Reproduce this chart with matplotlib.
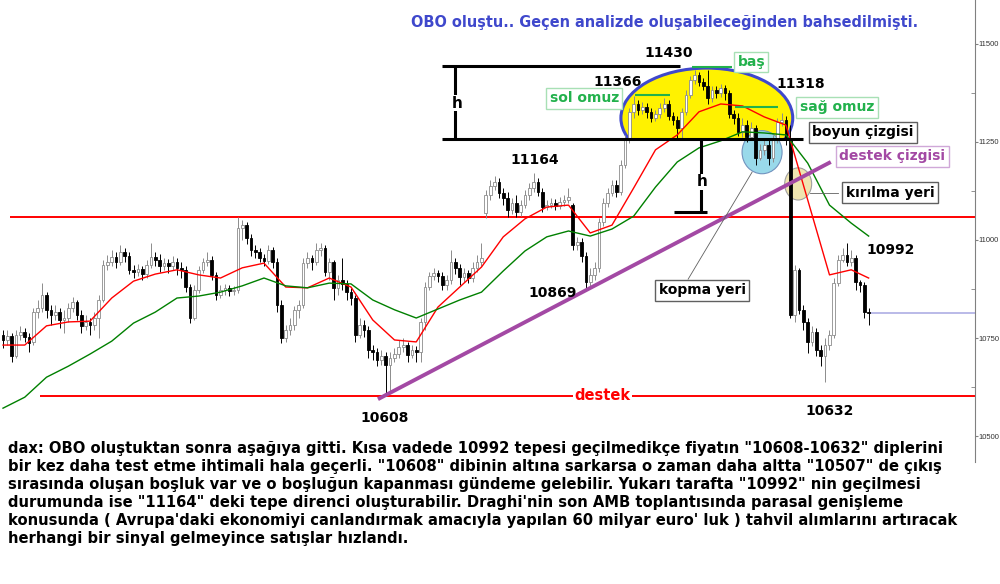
import numpy as np
import matplotlib
matplotlib.use("Agg")
import matplotlib.pyplot as plt
from matplotlib.patches import Ellipse, Rectangle

# DAX candles (one per bar, left to right)
opens = [
    10758, 10745, 10755, 10704, 10758, 10765, 10753, 10740, 10816, 10827,
    10860, 10822, 10809, 10816, 10796, 10801, 10827, 10842, 10809, 10781,
    10791, 10783, 10801, 10847, 10936, 10944, 10957, 10944, 10969, 10959,
    10924, 10918, 10926, 10913, 10936, 10957, 10949, 10934, 10941, 10934,
    10944, 10929, 10924, 10880, 10801, 10873, 10924, 10944, 10949, 10911,
    10860, 10873, 10878, 10870, 10873, 11031, 11038, 11005, 10975, 10969,
    10954, 10946, 10975, 10944, 10834, 10750, 10771, 10783, 10822, 10834,
    10941, 10954, 10944, 10975, 10980, 10918, 10944, 10878, 10898, 10888,
    10867, 10852, 10758, 10783, 10771, 10720, 10714, 10694, 10704, 10681,
    10699, 10709, 10727, 10732, 10707, 10720, 10714, 10791, 10880, 10908,
    10916, 10908, 10885, 10898, 10944, 10929, 10906, 10916, 10903, 10929,
    10944, 11069, 11115, 11138, 11148, 11120, 11107, 11077, 11094, 11071,
    11089, 11115, 11133, 11148, 11122, 11084, 11089, 11094, 11087, 11097,
    11102, 11089, 10987, 10995, 10959, 10893, 10911, 10929, 11046, 11094,
    11120, 11140, 11122, 11191, 11255, 11327, 11347, 11332, 11339, 11327,
    11311, 11321, 11337, 11347, 11316, 11306, 11286, 11327, 11370, 11408,
    11421, 11403, 11393, 11362, 11383, 11375, 11388, 11375, 11321, 11311,
    11276, 11293, 11263, 11286, 11209, 11230, 11242, 11209, 11255, 11301,
    11306, 11255, 10809, 10924, 10822, 10791, 10740, 10765, 10720, 10704,
    10732, 10758, 10890, 10949, 10962, 10944, 10954, 10893, 10885, 10816,
]
highs = [
    10771, 10771, 10763, 10771, 10781, 10776, 10763, 10827, 10847, 10890,
    10867, 10834, 10834, 10827, 10822, 10839, 10855, 10847, 10822, 10809,
    10801, 10816, 10860, 10949, 10962, 10975, 10969, 10987, 10980, 10969,
    10936, 10939, 10934, 10949, 10992, 10969, 10964, 10954, 10951, 10959,
    10954, 10944, 10934, 10888, 10885, 10934, 10954, 10969, 10959, 10918,
    10885, 10888, 10885, 10883, 11059, 11051, 11046, 11015, 10987, 10980,
    10964, 10987, 10982, 10954, 10847, 10783, 10801, 10832, 10847, 10954,
    10969, 10962, 10992, 10992, 10987, 10954, 10949, 10911, 10954, 10898,
    10878, 10860, 10801, 10796, 10781, 10732, 10724, 10720, 10714, 10714,
    10724, 10745, 10750, 10740, 10732, 10730, 10801, 10893, 10918, 10929,
    10924, 10918, 10911, 10975, 10954, 10939, 10929, 10924, 10944, 10962,
    10992, 11128, 11153, 11163, 11158, 11133, 11122, 11107, 11115, 11102,
    11128, 11145, 11171, 11158, 11133, 11102, 11107, 11104, 11110, 11115,
    11133, 11094, 11008, 11005, 10969, 10929, 10944, 11056, 11107, 11133,
    11153, 11153, 11204, 11268, 11337, 11367, 11357, 11352, 11350, 11337,
    11332, 11350, 11362, 11357, 11327, 11316, 11337, 11383, 11418, 11434,
    11429, 11413, 11434, 11393, 11393, 11398, 11395, 11383, 11332, 11324,
    11311, 11306, 11301, 11293, 11245, 11255, 11255, 11268, 11311, 11324,
    11316, 11293, 10936, 10929, 10834, 10801, 10781, 10776, 10732, 10750,
    10771, 10903, 10962, 10980, 10992, 10975, 10962, 10898, 10893, 10827,
]
lows = [
    10724, 10732, 10689, 10699, 10745, 10740, 10714, 10732, 10801, 10816,
    10801, 10783, 10796, 10776, 10763, 10791, 10816, 10796, 10763, 10771,
    10758, 10771, 10750, 10842, 10924, 10934, 10929, 10936, 10944, 10913,
    10903, 10908, 10898, 10903, 10929, 10934, 10918, 10924, 10916, 10924,
    10911, 10903, 10867, 10788, 10796, 10865, 10916, 10934, 10898, 10847,
    10852, 10860, 10857, 10860, 10865, 11000, 10990, 10959, 10954, 10944,
    10934, 10939, 10929, 10816, 10737, 10740, 10758, 10771, 10801, 10827,
    10929, 10924, 10936, 10959, 10908, 10898, 10847, 10860, 10873, 10847,
    10834, 10740, 10750, 10753, 10699, 10694, 10678, 10681, 10610, 10612,
    10689, 10699, 10714, 10689, 10699, 10689, 10689, 10771, 10873, 10898,
    10893, 10873, 10873, 10888, 10913, 10885, 10893, 10890, 10893, 10918,
    10934, 11056, 11102, 11128, 11107, 11089, 11059, 11066, 11059, 11061,
    11082, 11102, 11122, 11112, 11071, 11077, 11082, 11077, 11079, 11087,
    11094, 10975, 10975, 10944, 10873, 10878, 10898, 10918, 11036, 11084,
    11112, 11110, 11115, 11184, 11247, 11311, 11319, 11321, 11311, 11301,
    11304, 11311, 11327, 11306, 11293, 11260, 11255, 11319, 11362, 11398,
    11393, 11383, 11347, 11352, 11362, 11365, 11357, 11311, 11296, 11265,
    11263, 11250, 11255, 11191, 11204, 11217, 11191, 11199, 11247, 11291,
    11242, 10801, 10791, 10811, 10771, 10712, 10730, 10704, 10678, 10638,
    10720, 10750, 10883, 10944, 10934, 10934, 10873, 10867, 10801, 10783,
]
closes = [
    10745, 10755, 10704, 10758, 10765, 10753, 10737, 10816, 10827, 10860,
    10822, 10809, 10816, 10796, 10801, 10827, 10842, 10809, 10781, 10791,
    10783, 10801, 10847, 10936, 10944, 10957, 10944, 10969, 10959, 10924,
    10918, 10926, 10913, 10936, 10957, 10949, 10934, 10941, 10934, 10944,
    10929, 10924, 10880, 10801, 10873, 10924, 10944, 10949, 10911, 10860,
    10873, 10878, 10870, 10873, 11031, 11038, 11005, 10975, 10969, 10954,
    10946, 10975, 10944, 10834, 10750, 10771, 10783, 10822, 10834, 10941,
    10954, 10944, 10975, 10980, 10918, 10944, 10878, 10898, 10888, 10867,
    10852, 10758, 10783, 10771, 10720, 10714, 10694, 10704, 10681, 10699,
    10709, 10727, 10732, 10707, 10720, 10714, 10791, 10880, 10908, 10916,
    10908, 10885, 10898, 10944, 10929, 10906, 10916, 10903, 10929, 10944,
    10954, 11115, 11138, 11148, 11120, 11107, 11077, 11094, 11071, 11089,
    11115, 11133, 11148, 11122, 11084, 11089, 11094, 11087, 11097, 11102,
    11110, 10987, 10995, 10959, 10893, 10911, 10929, 11046, 11094, 11120,
    11140, 11122, 11191, 11255, 11327, 11347, 11332, 11339, 11327, 11311,
    11321, 11337, 11347, 11316, 11306, 11286, 11327, 11370, 11408, 11421,
    11403, 11393, 11362, 11383, 11375, 11388, 11375, 11321, 11311, 11276,
    11293, 11263, 11286, 11209, 11230, 11242, 11209, 11255, 11301, 11306,
    11255, 10809, 10924, 10822, 10791, 10740, 10765, 10720, 10704, 10732,
    10758, 10890, 10949, 10962, 10944, 10954, 10893, 10885, 10816, 10814,
]

# moving averages read every 5 bars
ma_idx = list(range(0, 200, 5)) + [199]
ma_fast = [
    10732, 10732, 10781, 10791, 10793, 10852, 10895, 10913, 10924, 10911,
    10903, 10929, 10941, 10880, 10878, 10903, 10880, 10796, 10745, 10740,
    10829, 10880, 10931, 11008, 11054, 11084, 11089, 11018, 11038, 11133,
    11230, 11268, 11327, 11347, 11342, 11314, 11293, 11102, 10911, 10924, 10903,
]
ma_slow = [
    10571, 10599, 10650, 10678, 10709, 10742, 10788, 10816, 10852, 10857,
    10867, 10883, 10903, 10883, 10878, 10890, 10888, 10847, 10822, 10801,
    10824, 10847, 10867, 10921, 10972, 11008, 11023, 11010, 11028, 11061,
    11135, 11199, 11235, 11253, 11276, 11273, 11268, 11196, 11089, 11043, 11010,
]

# levels used in the drawing
direnc = 11059
destek = 10603
boyun = 11258
bas_seviye = 11443
trend_x = [86.2, 190.3]
trend_y = [10594, 11199]

title = "OBO oluştu.. Geçen analizde oluşabileceğinden bahsedilmişti."
yorum = [
    'dax: OBO oluştuktan sonra aşağıya gitti. Kısa vadede 10992 tepesi geçilmedikçe fiyatın "10608-10632" diplerini',
    'bir kez daha test etme ihtimali hala geçerli. "10608" dibinin altına sarkarsa o zaman daha altta "10507" de çıkış',
    'sırasında oluşan boşluk var ve o boşluğun kapanması gündeme gelebilir. Yukarı tarafta "10992" nin geçilmesi',
    'durumunda ise "11164" deki tepe direnci oluşturabilir. Draghi\'nin son AMB toplantısında parasal genişleme',
    "konusunda ( Avrupa'daki ekonomiyi canlandırmak amacıyla yapılan 60 milyar euro' luk ) tahvil alımlarını artıracak",
    "herhangi bir sinyal gelmeyince satışlar hızlandı.",
]

GREEN = "#22b14c"
PURPLE = "#a349a4"
BLUE = "#3f48cc"

fig = plt.figure(figsize=(10, 5.84), dpi=100)
ax = fig.add_axes([0, 1 - 462 / 584, 0.975, 462 / 584])
ax.set_xlim(-0.69, 223.45)
ax.set_ylim(10433.7, 11612.2)

# pattern shapes behind the candles
clip = Rectangle((140, boyun), 50, 400, transform=ax.transData)
ell = Ellipse((161.8, 11311), 39.5, 255, facecolor="#fff200",
              edgecolor=BLUE, lw=2.2, zorder=1)
ax.add_patch(ell)
ell.set_clip_path(clip)
ax.add_patch(Ellipse((174.5, 11224), 9.2, 110, facecolor="#99d9ea",
                     edgecolor="#7092be", lw=0.8, zorder=1.5))
ax.add_patch(Ellipse((182.8, 11143), 6.2, 82, facecolor="#efe4b0",
                     edgecolor="#a0a0a0", lw=0.8, zorder=1.5))

ax.hlines(direnc, 1.6, 224, colors="#ff0000", lw=1.4, zorder=2)
ax.hlines(destek, 8.5, 224, colors="#ff0000", lw=1.4, zorder=2)

# candles
x = np.arange(len(closes))
o = np.array(opens)
c = np.array(closes)
h = np.array(highs)
l = np.array(lows)
up = c >= o
ax.vlines(x[up], l[up], h[up], colors="#8c8c8c", lw=0.7, zorder=3)
ax.vlines(x[~up], l[~up], h[~up], colors="black", lw=0.7, zorder=3)
ax.bar(x[up], (c - o)[up], bottom=o[up], width=0.62, color="white",
       edgecolor="#8c8c8c", lw=0.6, zorder=3.1)
ax.bar(x[~up], (o - c)[~up], bottom=c[~up], width=0.62, color="black",
       edgecolor="black", lw=0.6, zorder=3.1)

ax.plot(ma_idx, ma_fast, color="#ff0000", lw=1.0, zorder=4)
ax.plot(ma_idx, ma_slow, color="#008000", lw=1.0, zorder=4)

# last price line
ax.hlines(closes[-1], len(closes) - 1, 224, colors="#b4b4e6", lw=1.3, zorder=2)

# head and shoulders construction
ax.hlines(boyun, 101, 184, colors="black", lw=2.2, zorder=5)
ax.hlines(bas_seviye, 101, 155.6, colors="black", lw=2.2, zorder=5)
ax.vlines(103.9, boyun, bas_seviye, colors="black", lw=2.2, zorder=5)
ax.vlines(160.5, 11071, boyun, colors="black", lw=2.2, zorder=5)
ax.hlines(11071, 154.3, 161.8, colors="black", lw=2.2, zorder=5)
ax.hlines(11370, 145.3, 153.3, colors=GREEN, lw=1.5, zorder=5)
ax.hlines(11441, 158.4, 167.6, colors=GREEN, lw=1.5, zorder=5)
ax.hlines(11339, 168.3, 178.2, colors=GREEN, lw=1.5, zorder=5)
ax.plot(trend_x, trend_y, color=PURPLE, lw=2.8, zorder=5,
        solid_capstyle="butt")
ax.plot([157.5, 172.2], [10900, 11173], color="#606060", lw=0.6, zorder=5)
ax.plot([185.5, 192], [11120, 11120], color="#606060", lw=0.6, zorder=5)

bold = dict(fontweight="bold", ha="center", va="center", zorder=7)
ax.text(104.3, 11349, "h", fontsize=11, color="black",
        bbox=dict(fc="white", ec="none", pad=0.5), **bold)
ax.text(160.7, 11148, "h", fontsize=11, color="black",
        bbox=dict(fc="white", ec="none", pad=0.5), **bold)
ax.text(137.9, destek, "destek", fontsize=10.5, color="#ff0000",
        bbox=dict(fc="white", ec="none", pad=1), **bold)


def kutu(xp, yp, s, col, ec):
    ax.text(xp, yp, s, fontsize=10, color=col,
            bbox=dict(boxstyle="square,pad=0.25", fc="white", ec=ec, lw=1),
            **bold)


kutu(197.7, 11275, "boyun çizgisi", "black", "#606060")
kutu(204.4, 11214, "destek çizgisi", PURPLE, "#d0a8d8")
kutu(203.9, 11120, "kırılma yeri", "black", "#606060")
kutu(160.7, 10872, "kopma yeri", "black", "#606060")
kutu(133.6, 11362, "sol omuz", GREEN, "#a8e0b5")
kutu(172.0, 11454, "baş", GREEN, "#a8e0b5")
kutu(191.7, 11339, "sağ omuz", GREEN, "#a8e0b5")

for xp, yp, s in [(153.1, 11477, "11430"), (141.4, 11403, "11366"),
                  (183.4, 11398, "11318"), (122.3, 11204, "11164"),
                  (126.4, 10865, "10869"), (87.8, 10546, "10608"),
                  (190.1, 10564, "10632"), (204.1, 10975, "10992")]:
    ax.text(xp, yp, s, fontsize=10, color="black", **bold)

# axis styling
for side in ["top", "left", "bottom"]:
    ax.spines[side].set_visible(False)
ax.spines["right"].set_color("#808080")
ax.set_xticks([])
ax.yaxis.tick_right()
ax.set_yticks([10500, 10750, 11000, 11250, 11500])
ax.set_yticks([10625, 10875, 11125, 11375], minor=True)
ax.tick_params(axis="y", which="major", direction="out", length=2, pad=0.5,
               labelsize=5.5, colors="#808080", labelcolor="#333333")
ax.tick_params(axis="y", which="minor", direction="in", length=3,
               colors="#808080")
for lab in ax.get_yticklabels():
    lab.set_fontfamily("Liberation Sans")

fig.text(0.665, 1 - 22 / 584, title, ha="center", va="center",
         color=BLUE, fontsize=10.45, fontweight="bold")
for k, satir in enumerate(yorum):
    fig.text(0.008, 1 - (449 + 18 * k) / 584, satir, ha="left", va="center",
             fontsize=10.65, fontweight="bold", color="black")

fig.savefig("out.png", dpi=100)
